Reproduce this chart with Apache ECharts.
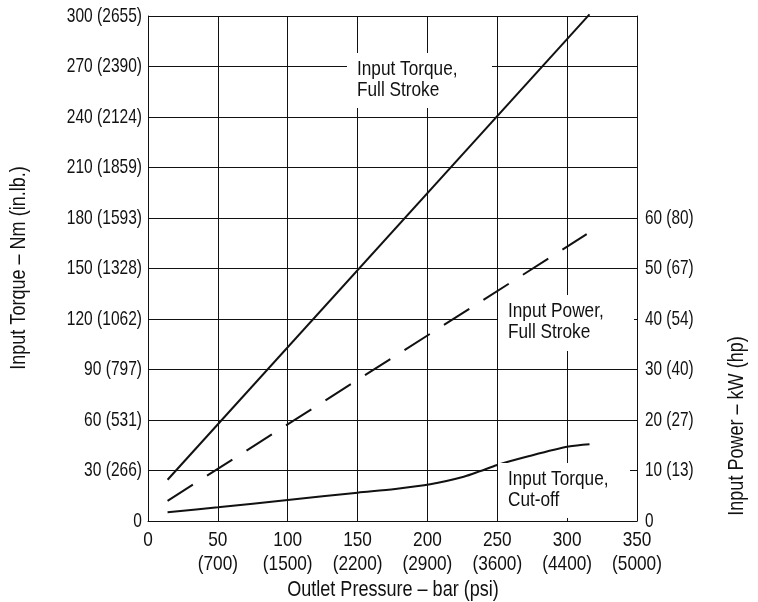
<!DOCTYPE html>
<html>
<head>
<meta charset="utf-8">
<title>Input Torque / Input Power vs Outlet Pressure</title>
<script src="https://cdn.jsdelivr.net/npm/echarts@6/dist/echarts.min.js"></script>
<style>
    html, body { margin: 0; padding: 0; background: #fff; }
    #chart { width: 758px; height: 602px; }
</style>
</head>
<body>
<div id="chart"></div>
<script>
// 刻度标签
var pressureBar = [0, 50, 100, 150, 200, 250, 300, 350];
var pressurePsi = ['', '700', '1500', '2200', '2900', '3600', '4400', '5000'];
var torqueNm = [0, 30, 60, 90, 120, 150, 180, 210, 240, 270, 300];
var torqueInLb = ['', '266', '531', '797', '1062', '1328', '1593', '1859', '2124', '2390', '2655'];
var powerKw = [0, 10, 20, 30, 40, 50, 60];
var powerHp = ['', '13', '27', '40', '54', '67', '80'];

// 曲线数据 [bar, 数值]
var torqueFullStroke = [[14, 24.5], [316, 301]];
var powerFullStroke = [[14, 4.0], [314, 56.8]];
var torqueCutoff = [
    [14, 5.2], [50, 8.1], [100, 12.5], [150, 16.8], [177, 19.0], [202, 21.8],
    [226, 26.3], [238, 29.7], [250, 33.3], [273, 38.6], [301, 44.2], [316, 45.6]
];

(function (window) {
    // 没有窄体字体, 用 Liberation Sans 横向压缩代替
    var FONT = '"Liberation Sans", Arial, sans-serif';
    var INK = '#111';

    function label(value, extra, sep) {
        return extra ? value + sep + '(' + extra + ')' : String(value);
    }

    function text(x, y, str, size, squeeze, align, vAlign, rotation, lineHeight) {
        return {
            type: 'text',
            z: 6,
            x: x,
            y: y,
            scaleX: squeeze,
            rotation: rotation || 0,
            style: {
                text: str,
                font: size + 'px ' + FONT,
                fill: INK,
                align: align,
                verticalAlign: vAlign,
                lineHeight: lineHeight || size
            }
        };
    }

    // 带白底的注释文字
    function note(x, y, w, h, str) {
        return [{
            type: 'rect',
            z: 5,
            shape: { x: x, y: y, width: w, height: h },
            style: { fill: '#fff' }
        }, text(x + 10, y + 6, str, 21, 0.82, 'left', 'top', 0, 21)];
    }

    function drawChart(dom) {
        var chart = echarts.init(dom, null, { renderer: 'canvas' });
        var lineStyle = { color: INK, width: 1 };

        chart.setOption({
            animation: false,
            grid: { left: 148, right: 121, top: 16, bottom: 81 },
            xAxis: {
                type: 'value',
                min: 0,
                max: 350,
                interval: 50,
                axisLine: { show: true, lineStyle: lineStyle },
                axisTick: { show: false },
                axisLabel: { show: false },
                splitLine: { show: true, lineStyle: lineStyle }
            },
            yAxis: [{
                type: 'value',
                min: 0,
                max: 300,
                interval: 30,
                axisLine: { show: true, lineStyle: lineStyle },
                axisTick: { show: false },
                axisLabel: { show: false },
                splitLine: { show: true, lineStyle: lineStyle }
            }, {
                type: 'value',
                min: 0,
                max: 100,
                interval: 10,
                position: 'right',
                axisLine: { show: true, lineStyle: lineStyle },
                axisTick: { show: false },
                axisLabel: { show: false },
                splitLine: { show: false }
            }],
            series: [{
                name: 'Input Torque, Full Stroke',
                type: 'line',
                yAxisIndex: 0,
                data: torqueFullStroke,
                showSymbol: false,
                clip: false,
                lineStyle: { color: INK, width: 2 }
            }, {
                name: 'Input Power, Full Stroke',
                type: 'line',
                yAxisIndex: 1,
                data: powerFullStroke,
                showSymbol: false,
                lineStyle: { color: INK, width: 2, type: [30, 16.8] }
            }, {
                name: 'Input Torque, Cut-off',
                type: 'line',
                yAxisIndex: 0,
                data: torqueCutoff,
                showSymbol: false,
                smooth: 0.3,
                lineStyle: { color: INK, width: 2 }
            }]
        });

        // 刻度标签按坐标轴换算位置
        var els = [];
        pressureBar.forEach(function (v, i) {
            var px = chart.convertToPixel({ xAxisIndex: 0 }, v);
            els.push(text(px, 528, label(v, pressurePsi[i], '\n'), 21, 0.82, 'center', 'top', 0, 24));
        });
        torqueNm.forEach(function (v, i) {
            var py = chart.convertToPixel({ yAxisIndex: 0 }, v);
            els.push(text(142, py, label(v, torqueInLb[i], ' '), 21, 0.74, 'right', 'middle'));
        });
        powerKw.forEach(function (v, i) {
            var py = chart.convertToPixel({ yAxisIndex: 1 }, v);
            els.push(text(645, py, label(v, powerHp[i], ' '), 21, 0.73, 'left', 'middle'));
        });

        // 坐标轴标题
        els.push(text(393, 590, 'Outlet Pressure – bar (psi)', 22, 0.82, 'center', 'middle'));
        els.push(text(19, 268, 'Input Torque – Nm (in.lb.)', 22, 0.82, 'center', 'middle', Math.PI / 2));
        els.push(text(737, 426, 'Input Power – kW (hp)', 22, 0.82, 'center', 'middle', Math.PI / 2));

        els = els.concat(note(347, 53, 145, 55, 'Input Torque,\nFull Stroke'))
            .concat(note(498, 295, 136, 56, 'Input Power,\nFull Stroke'))
            .concat(note(498, 463, 132, 55, 'Input Torque,\nCut-off'));

        chart.setOption({ graphic: els });
        return chart;
    }

    drawChart(document.getElementById('chart'));
})(window);
</script>
</body>
</html>
